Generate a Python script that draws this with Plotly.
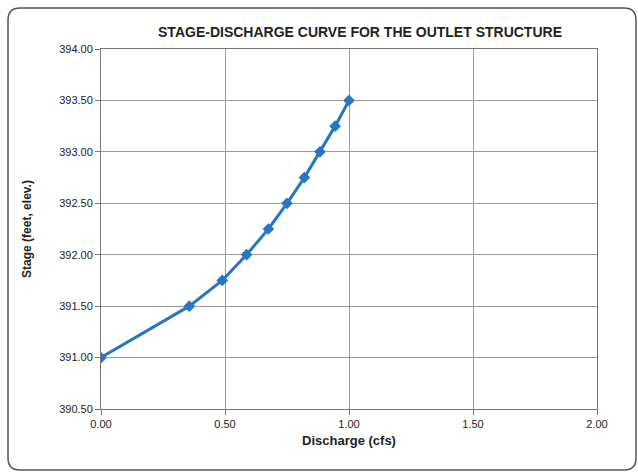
import plotly.graph_objects as go

# Stage-discharge rating for the outlet structure
discharge_cfs = [0.00, 0.356, 0.489, 0.587, 0.675, 0.750, 0.820, 0.883, 0.944, 1.000]
stage_ft = [391.00, 391.50, 391.75, 392.00, 392.25, 392.50, 392.75, 393.00, 393.25, 393.50]

x_ticks = [0.0, 0.5, 1.0, 1.5, 2.0]
y_ticks = [390.5, 391.0, 391.5, 392.0, 392.5, 393.0, 393.5, 394.0]

W, H = 638, 476
ML, MR, MT, MB = 101, 41, 49, 67
pw, ph = W - ML - MR, H - MT - MB

fig = go.Figure()
fig.add_trace(go.Scatter(
    x=discharge_cfs, y=stage_ft, mode="lines+markers",
    line=dict(color="#2676c6", width=3),
    marker=dict(symbol="diamond", size=9, color="#2676c6"),
    showlegend=False,
))

# rounded outer frame, expressed in paper coordinates
def px_x(v):
    return (v - ML) / pw

def px_y(v):
    return (H - MB - v) / ph

x0, x1, y0, y1, r = 8, 636, 8, 470, 12
path = (
    f"M {px_x(x0 + r)} {px_y(y0)} L {px_x(x1 - r)} {px_y(y0)} "
    f"Q {px_x(x1)} {px_y(y0)} {px_x(x1)} {px_y(y0 + r)} "
    f"L {px_x(x1)} {px_y(y1 - r)} Q {px_x(x1)} {px_y(y1)} {px_x(x1 - r)} {px_y(y1)} "
    f"L {px_x(x0 + r)} {px_y(y1)} Q {px_x(x0)} {px_y(y1)} {px_x(x0)} {px_y(y1 - r)} "
    f"L {px_x(x0)} {px_y(y0 + r)} Q {px_x(x0)} {px_y(y0)} {px_x(x0 + r)} {px_y(y0)} Z"
)
fig.add_shape(type="path", path=path, xref="paper", yref="paper",
              line=dict(color="#555555", width=1.5), layer="below")

axis_common = dict(
    showgrid=True, gridcolor="#9a9a9a", gridwidth=1,
    showline=True, linecolor="#777777", linewidth=1, mirror=True,
    ticks="outside", ticklen=5, tickcolor="#777777",
    zeroline=False,
    tickfont=dict(family="Liberation Sans, Arial, sans-serif", size=11, color="#222222"),
)

fig.update_layout(
    width=W, height=H,
    margin=dict(l=ML, r=MR, t=MT, b=MB),
    paper_bgcolor="white", plot_bgcolor="white",
    title=dict(
        text="<b>STAGE-DISCHARGE CURVE FOR THE OUTLET STRUCTURE</b>",
        x=360 / W, xanchor="center", y=1 - 32 / H, yanchor="middle",
        font=dict(family="Liberation Sans, Arial, sans-serif", size=14, color="#222222"),
    ),
    xaxis=dict(
        axis_common, range=[0, 2], tickvals=x_ticks,
        ticktext=[f"{v:.2f}" for v in x_ticks],
        title=dict(text="<b>Discharge (cfs)</b>", standoff=6,
                   font=dict(family="Liberation Sans, Arial, sans-serif", size=13, color="#222222")),
    ),
    yaxis=dict(
        axis_common, range=[390.5, 394.0], tickvals=y_ticks,
        ticktext=[f"{v:.2f}" for v in y_ticks],
        title=dict(text="<b>Stage (feet, elev.)</b>", standoff=24,
                   font=dict(family="Liberation Sans, Arial, sans-serif", size=12, color="#222222")),
    ),
)

fig.write_html("out.html")
